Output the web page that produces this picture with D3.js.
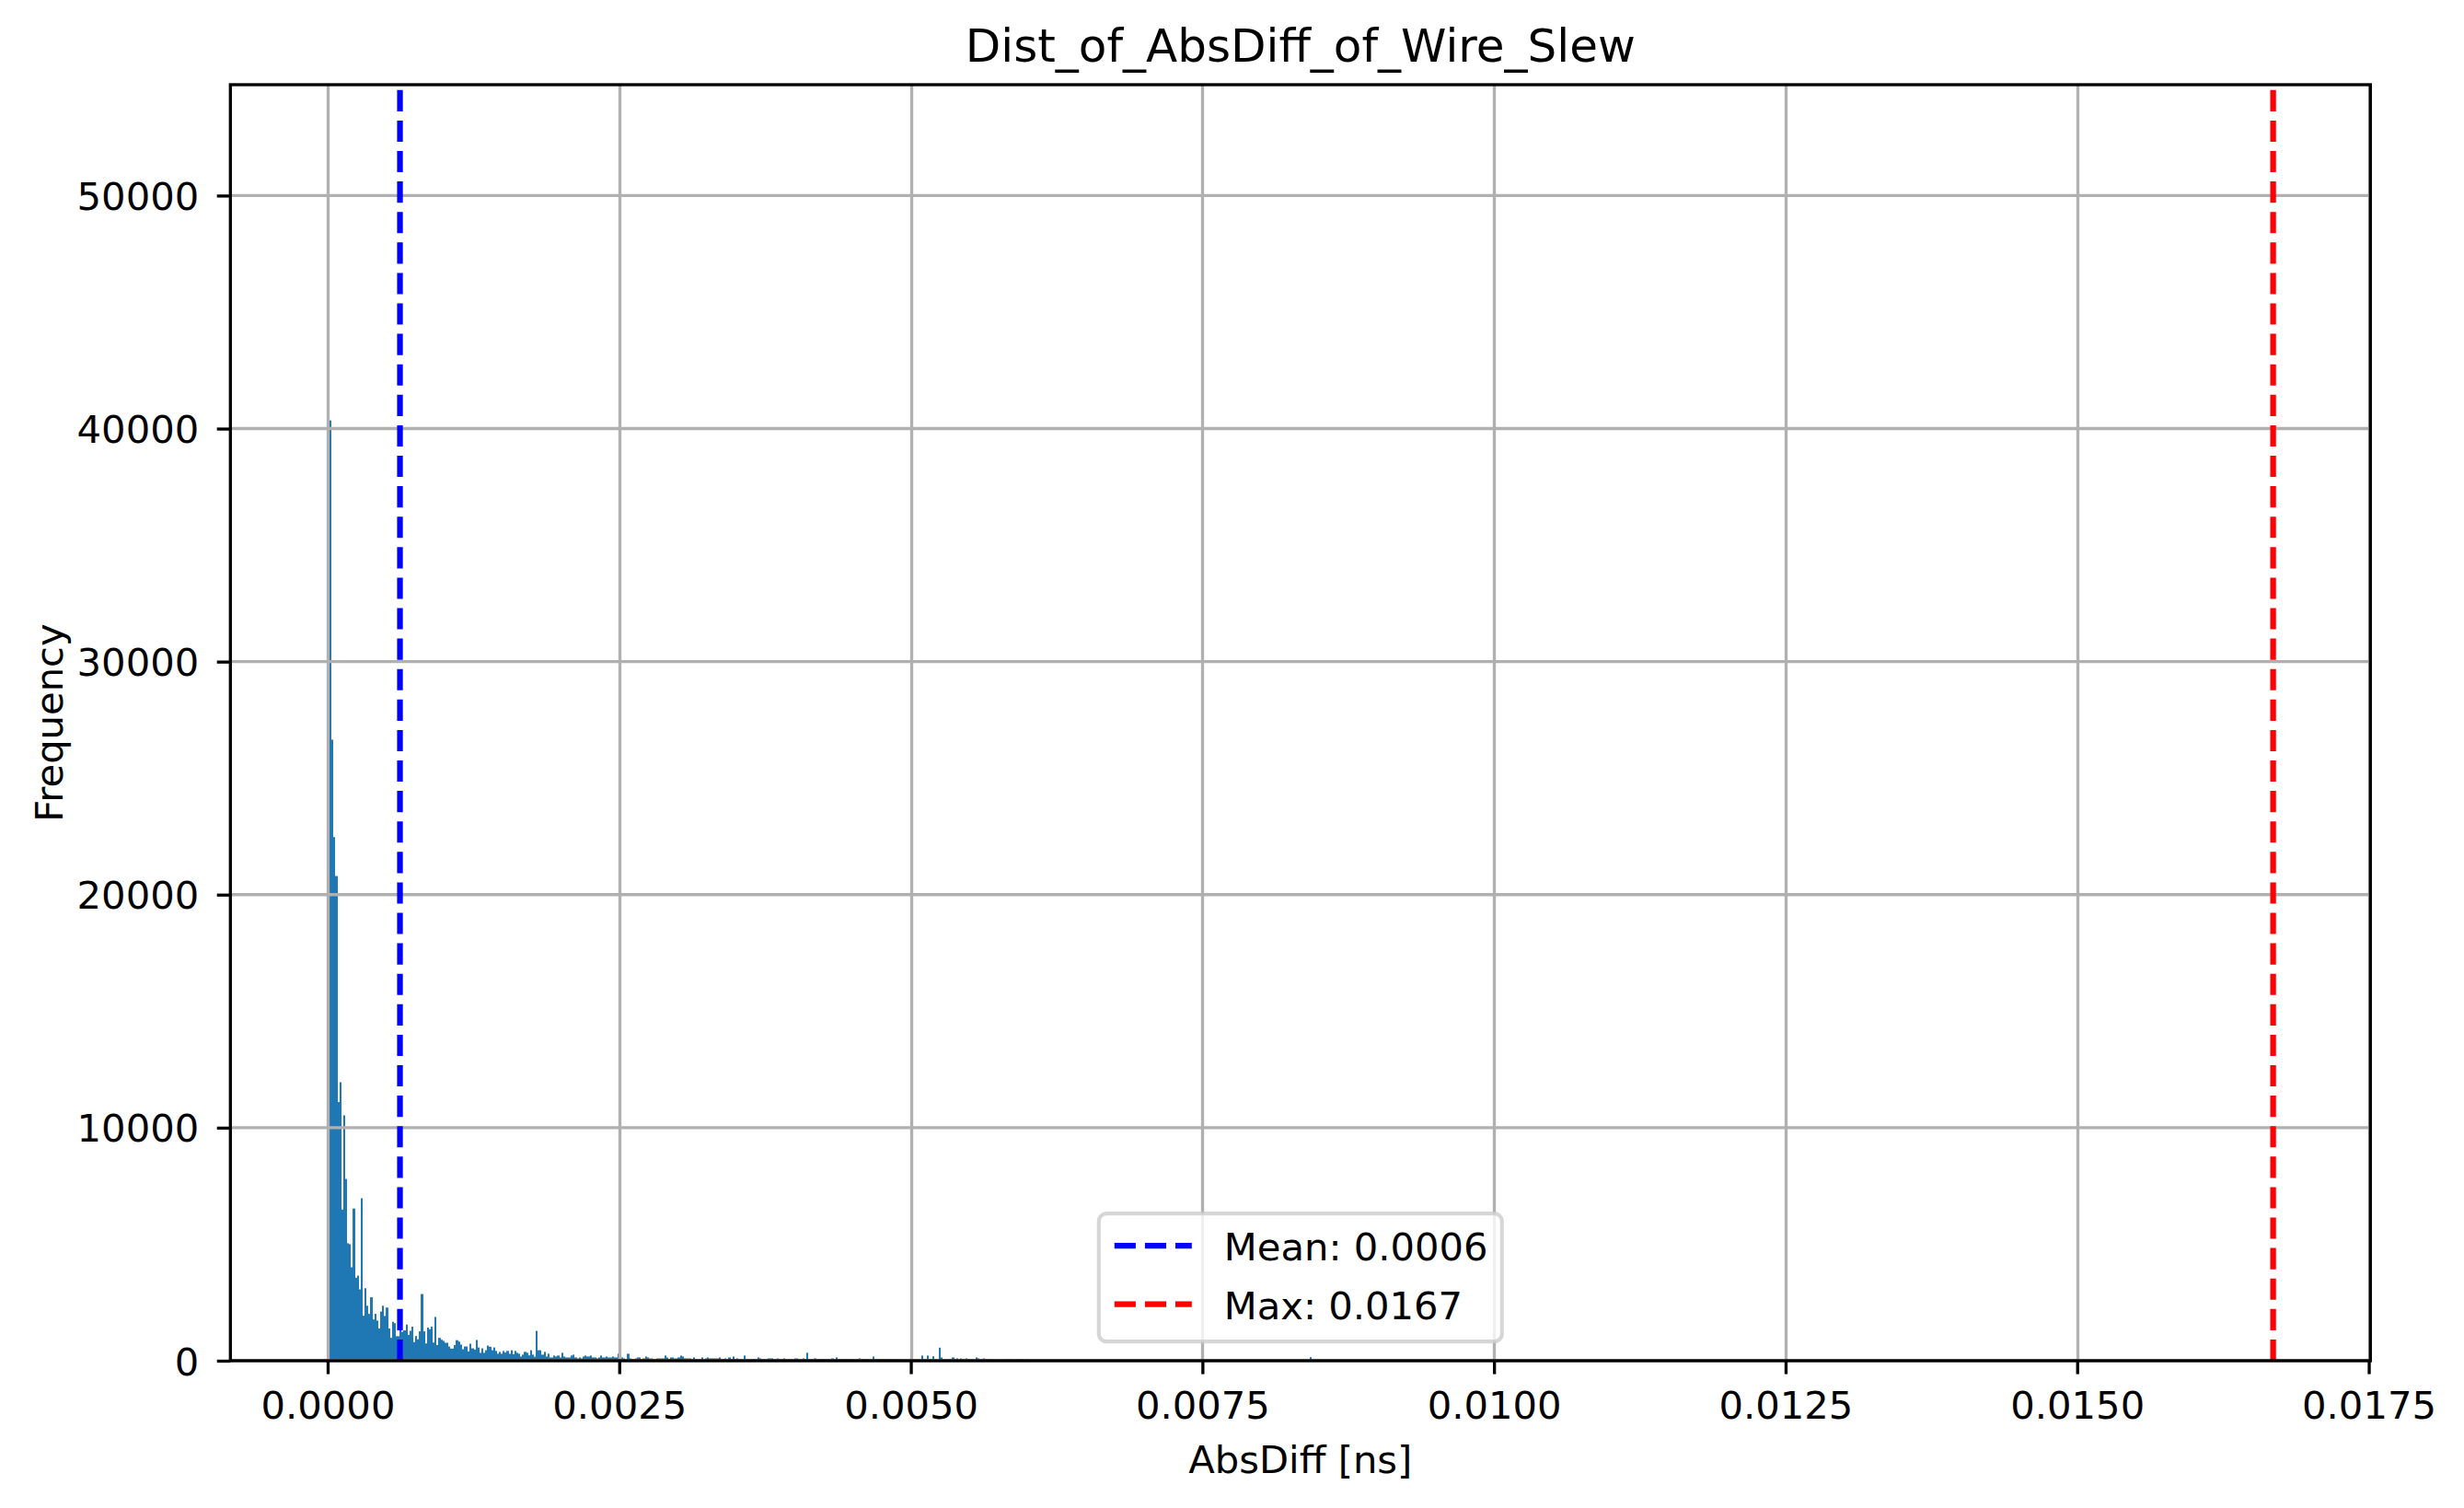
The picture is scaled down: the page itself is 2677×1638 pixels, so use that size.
<!DOCTYPE html>
<html>
<head>
<meta charset="utf-8">
<script src="https://cdn.jsdelivr.net/npm/d3@7"></script>
<style>
  body { margin: 0; background: #fff; }
  text { font-family: 'DejaVu Sans', sans-serif; }
</style>
</head>
<body>
<svg id="chart"></svg>
<script>
// histogram: 1000 equal bins between 0 and the max value
const binCount = 1000;
const maxValue = 0.01668;
const meanValue = 0.00062;

// counts of the first bins (bin 0 .. 152)
const headCounts = [
  52150, 40350, 26650, 22470, 20800, 11100, 11950, 6490, 10530, 7800,
  5040, 5000, 4010, 6530, 3560, 3650, 3060, 6970, 1930, 3110,
  2360, 2010, 2720, 1770, 2010, 1720, 1380, 2110, 2360, 1920,
  2280, 1380, 980, 1670, 1610, 1050, 1050, 1310, 1240, 1300,
  1550, 1110, 1280, 1460, 800, 1060, 920, 1260, 2860, 1260,
  740, 1420, 1350, 1460, 780, 1880, 670, 980, 900, 850,
  770, 770, 610, 520, 520, 670, 880, 820, 690, 490,
  610, 610, 400, 730, 530, 480, 890, 570, 340, 530,
  340, 450, 650, 600, 450, 570, 420, 300, 380, 300,
  420, 350, 420, 300, 450, 280, 420, 340, 300, 180,
  260, 380, 340, 230, 450, 260, 170, 1280, 450, 450,
  260, 380, 180, 300, 140, 140, 220, 180, 220, 140,
  340, 180, 140, 140, 140, 220, 260, 140, 100, 140,
  100, 180, 220, 180, 180, 220, 140, 140, 100, 140,
  220, 140, 140, 180, 140, 140, 180, 140, 140, 300,
  140, 140, 100
];

// sparse tail: bin index and count
const tailBins = [
  154, 155, 156, 158, 159, 160, 161, 162, 163, 164, 165, 166, 167, 168, 169,
  170, 171, 172, 173, 174, 175, 176, 177, 178, 179, 180, 181, 182, 183, 184,
  185, 186, 188, 192, 194, 195, 196, 197, 198, 199, 200, 201, 204, 206, 208,
  210, 214, 215, 221, 222, 226, 227, 228, 231, 234, 240, 241, 244, 246, 247,
  250, 253, 254, 255, 256, 257, 259, 261, 262, 264, 265, 266, 267, 268, 269,
  270, 273, 275, 276, 277, 280, 281, 282, 283, 284, 285, 286, 287, 289, 291,
  292, 293, 294, 299, 305, 308, 311, 314, 315, 321, 323, 325, 328, 333, 334,
  337, 340, 341, 348, 349, 350, 351, 354, 356, 359, 505, 999
];
const tailCounts = [
  300, 100, 60, 100, 140, 140, 60, 100, 180, 140, 100, 100, 60, 60, 100,
  100, 100, 100, 220, 140, 60, 140, 140, 100, 100, 140, 220, 180, 100, 100,
  100, 100, 140, 140, 100, 140, 100, 100, 100, 100, 100, 140, 100, 140, 180,
  100, 220, 60, 140, 100, 100, 100, 100, 100, 100, 100, 100, 100, 340, 60,
  100, 60, 60, 60, 60, 60, 100, 140, 60, 60, 60, 60, 60, 60, 60,
  60, 100, 60, 60, 60, 180, 60, 60, 60, 60, 60, 60, 60, 60, 60,
  60, 60, 60, 60, 220, 220, 190, 560, 140, 140, 100, 100, 100, 140, 100,
  100, 60, 60, 60, 60, 60, 60, 60, 60, 60, 150, 1
];

const xTicks = [0, 0.0025, 0.005, 0.0075, 0.01, 0.0125, 0.015, 0.0175];
const yTicks = [0, 10000, 20000, 30000, 40000, 50000];

const config = {
  width: 2677,
  height: 1638,
  left: 250.3,
  top: 92,
  plotW: 2325,
  plotH: 1386,
  fontSize: 41.7,
  titleSize: 50,
  lw: 3.33,
  tickLen: 14.6,
};

const counts = new Array(binCount).fill(0);
headCounts.forEach((c, i) => (counts[i] = c));
tailBins.forEach((b, i) => (counts[b] = tailCounts[i]));
const binW = maxValue / binCount;
const bins = counts
  .map((c, i) => ({ x0: i * binW, x1: (i + 1) * binW, count: c }))
  .filter((d) => d.count > 0);

const svg = d3
  .select('#chart')
  .attr('width', config.width)
  .attr('height', config.height);

const L = config.left;
const T = config.top;
const R = L + config.plotW;
const B = T + config.plotH;

// 5% margins like matplotlib
const x = d3
  .scaleLinear()
  .domain([-0.05 * maxValue, 1.05 * maxValue])
  .range([L, R]);
const y = d3
  .scaleLinear()
  .domain([0, 1.05 * d3.max(counts)])
  .range([B, T]);

// pixel snapping, same idea as the Agg backend
const snap = (v) => Math.round(v);

// bars
svg
  .append('g')
  .selectAll('rect')
  .data(bins)
  .join('rect')
  .attr('x', (d) => snap(x(d.x0)))
  .attr('width', (d) => Math.max(1, snap(x(d.x1)) - snap(x(d.x0))))
  .attr('y', (d) => y(d.count))
  .attr('height', (d) => y(0) - y(d.count))
  .attr('fill', '#1f77b4');

// grid sits above the bars
const grid = svg.append('g').attr('stroke', '#b0b0b0').attr('stroke-width', config.lw);
grid
  .selectAll('.vx')
  .data(xTicks)
  .join('line')
  .attr('x1', (d) => snap(x(d)) + 0.5)
  .attr('x2', (d) => snap(x(d)) + 0.5)
  .attr('y1', T)
  .attr('y2', B);
grid
  .selectAll('.hy')
  .data(yTicks)
  .join('line')
  .attr('x1', L)
  .attr('x2', R)
  .attr('y1', (d) => y(d))
  .attr('y2', (d) => y(d));

// mean / max lines
const refLines = [
  { value: meanValue, color: 'blue', label: 'Mean: ' + meanValue.toFixed(4) },
  { value: maxValue, color: 'red', label: 'Max: ' + maxValue.toFixed(4) },
];
svg
  .append('g')
  .selectAll('line')
  .data(refLines)
  .join('line')
  .attr('x1', (d) => x(d.value))
  .attr('x2', (d) => x(d.value))
  .attr('y1', B)
  .attr('y2', T)
  .attr('stroke', (d) => d.color)
  .attr('stroke-width', 6.25)
  .attr('stroke-dasharray', '23.1,10');

// axes
const xAxis = svg
  .append('g')
  .attr('transform', `translate(0,${B})`)
  .call(
    d3
      .axisBottom(x)
      .tickValues(xTicks)
      .tickFormat(d3.format('.4f'))
      .tickSize(config.tickLen)
      .tickPadding(18.5)
  );
const yAxis = svg
  .append('g')
  .attr('transform', `translate(${L},0)`)
  .call(
    d3
      .axisLeft(y)
      .tickValues(yTicks)
      .tickFormat(d3.format('d'))
      .tickSize(config.tickLen)
      .tickPadding(19.5)
  );
[xAxis, yAxis].forEach((a) => {
  a.select('.domain').remove();
  a.selectAll('line').attr('stroke', '#000').attr('stroke-width', config.lw);
  a.selectAll('text')
    .attr('font-size', config.fontSize)
    .attr('font-family', 'DejaVu Sans')
    .attr('fill', '#000');
});
yAxis.selectAll('text').attr('dy', '0.36em');

// spines
svg
  .append('rect')
  .attr('x', L)
  .attr('y', T)
  .attr('width', config.plotW)
  .attr('height', config.plotH)
  .attr('fill', 'none')
  .attr('stroke', '#000')
  .attr('stroke-width', config.lw);

// labels
svg
  .append('text')
  .attr('x', (L + R) / 2)
  .attr('y', 66.7)
  .attr('text-anchor', 'middle')
  .attr('font-size', config.titleSize)
  .text('Dist_of_AbsDiff_of_Wire_Slew');
svg
  .append('text')
  .attr('x', (L + R) / 2)
  .attr('y', 1600)
  .attr('text-anchor', 'middle')
  .attr('font-size', config.fontSize)
  .text('AbsDiff [ns]');
svg
  .append('text')
  .attr('transform', `translate(68,${(T + B) / 2}) rotate(-90)`)
  .attr('text-anchor', 'middle')
  .attr('font-size', config.fontSize)
  .text('Frequency');

// legend, lower center
const legW = 438;
const legH = 139;
const legX = (L + R) / 2 - legW / 2;
const legY = B - 20.8 - legH;
const legend = svg.append('g').attr('transform', `translate(${legX},${legY})`);
legend
  .append('rect')
  .attr('width', legW)
  .attr('height', legH)
  .attr('rx', 8.3)
  .attr('fill', '#fff')
  .attr('fill-opacity', 0.8)
  .attr('stroke', '#cccccc')
  .attr('stroke-opacity', 0.8)
  .attr('stroke-width', 4.17);
const items = legend
  .selectAll('.item')
  .data(refLines)
  .join('g')
  .attr('transform', (d, i) => `translate(0,${35 + i * 63.5})`);
items
  .append('line')
  .attr('x1', 17)
  .attr('x2', 101)
  .attr('stroke', (d) => d.color)
  .attr('stroke-width', 6.25)
  .attr('stroke-dasharray', '23.1,10');
items
  .append('text')
  .attr('x', 136)
  .attr('y', 16)
  .attr('font-size', config.fontSize)
  .text((d) => d.label);
</script>
</body>
</html>
